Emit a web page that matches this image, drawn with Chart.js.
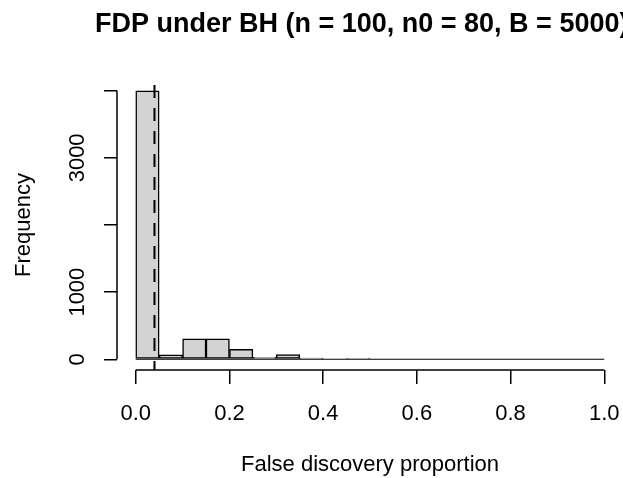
<!DOCTYPE html>
<html>
<head>
<meta charset="utf-8">
<script src="https://cdn.jsdelivr.net/npm/chart.js@4.4.1/dist/chart.umd.min.js"></script>
<style>
  html, body { margin: 0; padding: 0; background: #fff; }
  canvas { display: block; }
</style>
</head>
<body>
<canvas id="fdp_hist" width="623" height="478"></canvas>
<script>
// histogram bins (left edges / right edges) and counts
const binLeft  = [0.00, 0.05, 0.10, 0.15, 0.20, 0.25, 0.30, 0.35, 0.40, 0.45,
                  0.50, 0.55, 0.60, 0.65, 0.70, 0.75, 0.80, 0.85, 0.90, 0.95];
const binRight = [0.05, 0.10, 0.15, 0.20, 0.25, 0.30, 0.35, 0.40, 0.45, 0.50,
                  0.55, 0.60, 0.65, 0.70, 0.75, 0.80, 0.85, 0.90, 0.95, 1.00];
const counts   = [4000, 67, 305, 305, 149, 30, 70, 18, 0, 15,
                  0, 0, 0, 0, 0, 0, 0, 0, 0, 0];

// axes
const xTicks = [0, 0.2, 0.4, 0.6, 0.8, 1.0];
const xTickLabels = ['0.0', '0.2', '0.4', '0.6', '0.8', '1.0'];
const yTicks = [0, 1000, 2000, 3000, 4000];
const yTickLabels = ['0', '1000', '', '3000', ''];

// dashed reference line (target FDR level)
const refLine = 0.04;

const TITLE = 'FDP under BH (n = 100, n0 = 80, B = 5000)';
const FONT = 'Liberation Sans, Arial, Helvetica, sans-serif';

// R style: plot region is 4% wider than the data range
const xMin = -0.04, xMax = 1.04;
const yMin = -0.04 * 4000, yMax = 1.04 * 4000;

const axisFont = { family: FONT, size: 22 };

const rAxes = {
    id: 'rAxes',
    afterDraw(chart) {
        const { ctx, chartArea, scales: { x, y } } = chart;
        ctx.save();
        ctx.strokeStyle = '#000';
        ctx.lineWidth = 1.5;
        ctx.beginPath();
        ctx.moveTo(x.getPixelForValue(xTicks[0]), chartArea.bottom);
        ctx.lineTo(x.getPixelForValue(xTicks[xTicks.length - 1]), chartArea.bottom);
        ctx.moveTo(chartArea.left, y.getPixelForValue(yTicks[0]));
        ctx.lineTo(chartArea.left, y.getPixelForValue(yTicks[yTicks.length - 1]));
        ctx.stroke();

        // main title; the original figure was cropped, so it runs off the right edge
        ctx.fillStyle = '#000';
        ctx.font = 'bold 27px ' + FONT;
        ctx.textAlign = 'left';
        ctx.textBaseline = 'middle';
        ctx.fillText(TITLE, chartArea.left - 22, 25);
        ctx.restore();
    }
};

const ctx = document.getElementById('fdp_hist').getContext('2d');
new Chart(ctx, {
    data: {
        datasets: [
            {
                type: 'line',
                data: [{ x: refLine, y: yMin }, { x: refLine, y: yMax }],
                borderColor: '#000',
                borderWidth: 2,
                borderDash: [13, 10],
                borderDashOffset: 4,
                pointRadius: 0,
                order: 0
            },
            {
                type: 'line',
                data: [{ x: binLeft[0], y: 0 }, { x: binRight[binRight.length - 1], y: 0 }],
                borderColor: '#000',
                borderWidth: 1.2,
                pointRadius: 0,
                order: 0
            },
            {
                type: 'bar',
                data: counts.map((c, i) => ({ x: (binLeft[i] + binRight[i]) / 2, y: c })),
                backgroundColor: '#d3d3d3',
                borderColor: '#000',
                borderWidth: 1.5,
                borderSkipped: false,
                barPercentage: 1,
                categoryPercentage: 1,
                order: 1
            }
        ]
    },
    options: {
        responsive: false,
        animation: false,
        layout: { padding: { top: 80, right: 0, bottom: 0, left: 0 } },
        plugins: { legend: { display: false }, tooltip: { enabled: false }, title: { display: false } },
        scales: {
            x: {
                type: 'linear',
                min: xMin,
                max: xMax,
                offset: false,
                afterBuildTicks: (s) => { s.ticks = xTicks.map((v) => ({ value: v })); },
                afterFit: (s) => { s.height = 108; s.paddingLeft = 0; s.paddingRight = 0; },
                border: { display: false },
                grid: { offset: false, drawOnChartArea: false, drawTicks: true, tickLength: 14, color: '#000', lineWidth: 1.5 },
                ticks: {
                    autoSkip: false, maxRotation: 0, padding: 17, color: '#000', font: axisFont,
                    callback: (v, i) => xTickLabels[i]
                },
                title: { display: true, text: 'False discovery proportion', color: '#000', font: axisFont, padding: { top: 0, bottom: 0 } }
            },
            y: {
                type: 'linear',
                min: yMin,
                max: yMax,
                afterBuildTicks: (s) => { s.ticks = yTicks.map((v) => ({ value: v })); },
                afterFit: (s) => { s.width = 117; },
                border: { display: false },
                grid: { drawOnChartArea: false, drawTicks: true, tickLength: 13, color: '#000', lineWidth: 1.5 },
                ticks: {
                    autoSkip: false, minRotation: 90, maxRotation: 90, crossAlign: 'center', padding: 2,
                    color: '#000', font: axisFont,
                    callback: (v, i) => yTickLabels[i]
                },
                title: { display: true, text: 'Frequency', color: '#000', font: axisFont, padding: { top: 11, bottom: 0 } }
            }
        }
    },
    plugins: [rAxes]
});
</script>
</body>
</html>
